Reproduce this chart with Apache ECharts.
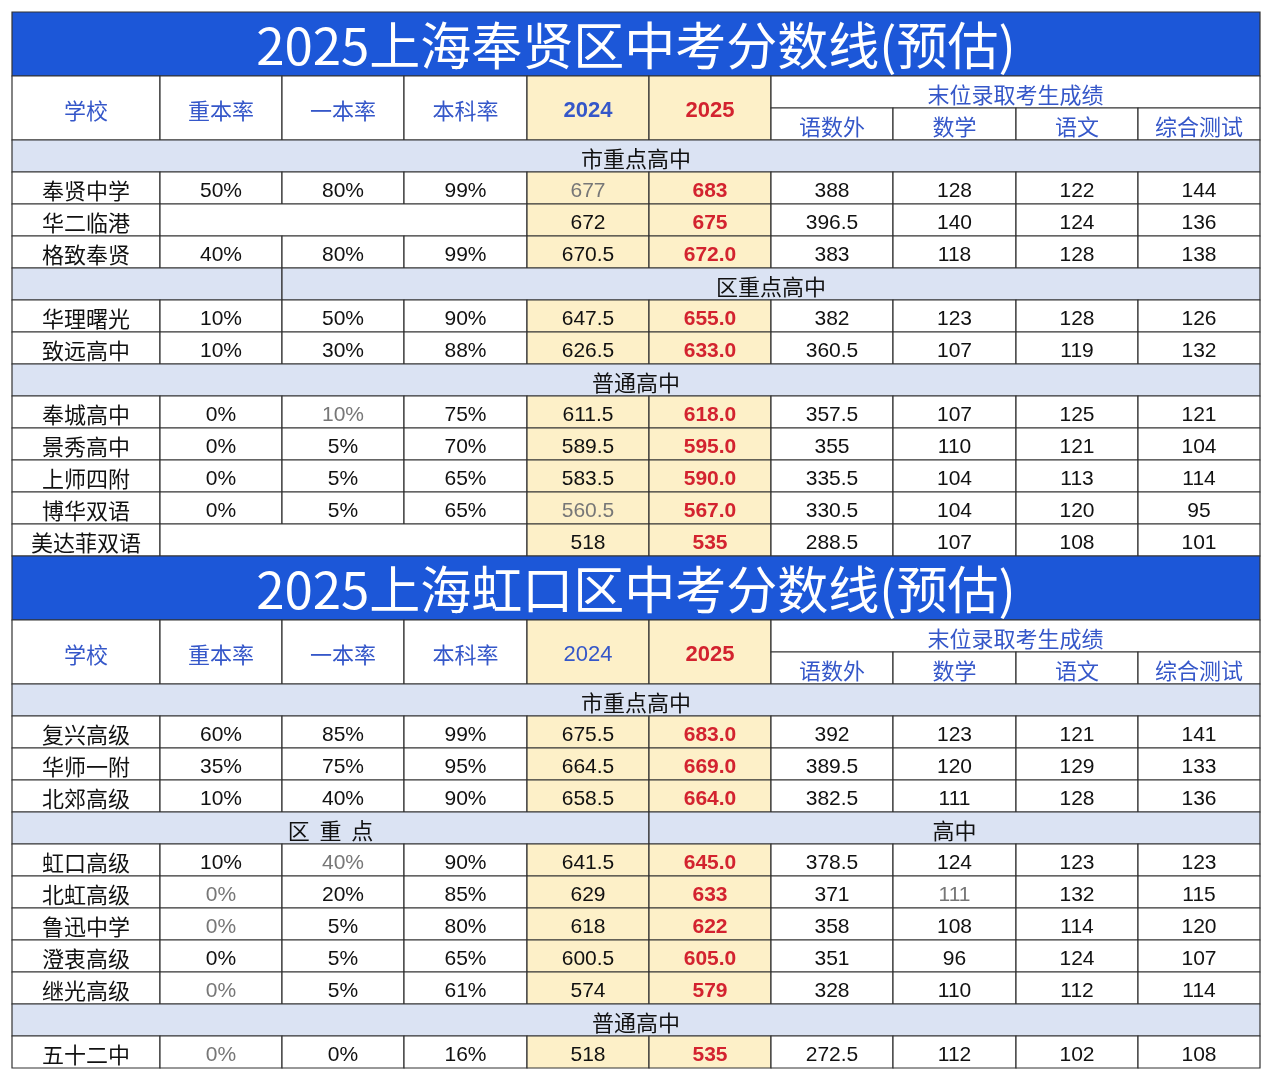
<!DOCTYPE html>
<html>
<head>
<meta charset="UTF-8">
<title>中考分数线</title>
<script src="https://cdn.jsdelivr.net/npm/echarts@6/dist/echarts.min.js"></script>
</head>
<body style="margin:0;background:#fff">
<div id="main" style="width:1272px;height:1080px"></div>
<script>
// 列宽（像素单位，轴按像素值排布）
var colWidths = [148, 122, 122, 123, 122, 122, 122, 123, 122, 122];
var headLabels = ['学校', '重本率', '一本率', '本科率', '2024', '2025'];
var subHead = '末位录取考生成绩';
var subLabels = ['语数外', '数学', '语文', '综合测试'];

// 奉贤区
var fxTitle = '2025上海奉贤区中考分数线(预估)';
var fxSchools = ['奉贤中学', '华二临港', '格致奉贤', '华理曙光', '致远高中', '奉城高中', '景秀高中', '上师四附', '博华双语', '美达菲双语'];
var fxRates = [['50%', '80%', '99%'], null, ['40%', '80%', '99%'], ['10%', '50%', '90%'], ['10%', '30%', '88%'],
  ['0%', '10%', '75%'], ['0%', '5%', '70%'], ['0%', '5%', '65%'], ['0%', '5%', '65%'], null];
var fx2024 = ['677', '672', '670.5', '647.5', '626.5', '611.5', '589.5', '583.5', '560.5', '518'];
var fx2025 = ['683', '675', '672.0', '655.0', '633.0', '618.0', '595.0', '590.0', '567.0', '535'];
var fxScores = [[388, 128, 122, 144], [396.5, 140, 124, 136], [383, 118, 128, 138], [382, 123, 128, 126], [360.5, 107, 119, 132],
  [357.5, 107, 125, 121], [355, 110, 121, 104], [335.5, 104, 113, 114], [330.5, 104, 120, 95], [288.5, 107, 108, 101]];
var fxSections = [
  { at: 0, spans: [[0, 10, '市重点高中']] },
  { at: 3, spans: [[0, 2, ''], [2, 10, '区重点高中']] },
  { at: 5, spans: [[0, 10, '普通高中']] }
];
var fxBold2024 = true;

// 虹口区
var hkTitle = '2025上海虹口区中考分数线(预估)';
var hkSchools = ['复兴高级', '华师一附', '北郊高级', '虹口高级', '北虹高级', '鲁迅中学', '澄衷高级', '继光高级', '五十二中'];
var hkRates = [['60%', '85%', '99%'], ['35%', '75%', '95%'], ['10%', '40%', '90%'], ['10%', '40%', '90%'], ['0%', '20%', '85%'],
  ['0%', '5%', '80%'], ['0%', '5%', '65%'], ['0%', '5%', '61%'], ['0%', '0%', '16%']];
var hk2024 = ['675.5', '664.5', '658.5', '641.5', '629', '618', '600.5', '574', '518'];
var hk2025 = ['683.0', '669.0', '664.0', '645.0', '633', '622', '605.0', '579', '535'];
var hkScores = [[392, 123, 121, 141], [389.5, 120, 129, 133], [382.5, 111, 128, 136], [378.5, 124, 123, 123], [371, 111, 132, 115],
  [358, 108, 114, 120], [351, 96, 124, 107], [328, 110, 112, 114], [272.5, 112, 102, 108]];
var hkSections = [
  { at: 0, spans: [[0, 10, '市重点高中']] },
  { at: 3, spans: [[0, 5, '区  重  点'], [5, 10, '高中']] },
  { at: 8, spans: [[0, 10, '普通高中']] }
];
var hkBold2024 = false;

// 灰色字的单元格：区-行-列
var grayCells = ['fx-0-4', 'fx-5-2', 'fx-8-4', 'hk-3-2', 'hk-4-1', 'hk-5-1', 'hk-7-1', 'hk-8-1', 'hk-4-7'];

var xEdge = [0];
colWidths.forEach(function (w) { xEdge.push(xEdge[xEdge.length - 1] + w); });

var BLUE = '#1c57d8', HEAD = '#3557c9', RED = '#d3232f', YEL = '#fdf0c8', SEC = '#dbe3f3';
var cells = [];
var row = 0;
function cell(c0, c1, r0, r1, text, st) {
  cells.push([xEdge[c0], r0, xEdge[c1], r1, String(text), st || {}]);
}
function block(key, title, schools, rates, s24, s25, scores, sections, bold24) {
  cell(0, 10, row, row + 2, title, { fill: BLUE, color: '#fff', size: 51, title: true });
  row += 2;
  for (var i = 0; i < 4; i++) cell(i, i + 1, row, row + 2, headLabels[i], { color: HEAD, size: 22 });
  cell(4, 5, row, row + 2, headLabels[4], { fill: YEL, color: HEAD, bold: bold24, num: true, size: 22 });
  cell(5, 6, row, row + 2, headLabels[5], { fill: YEL, color: RED, bold: true, num: true, size: 22 });
  cell(6, 10, row, row + 1, subHead, { color: HEAD, size: 22 });
  for (i = 0; i < 4; i++) cell(6 + i, 7 + i, row + 1, row + 2, subLabels[i], { color: HEAD, size: 22 });
  row += 2;
  var si = 0;
  for (var r = 0; r < schools.length; r++) {
    if (si < sections.length && sections[si].at === r) {
      sections[si].spans.forEach(function (s) { cell(s[0], s[1], row, row + 1, s[2], { fill: SEC, size: 22 }); });
      si++; row++;
    }
    var g = function (c) { return grayCells.indexOf(key + '-' + r + '-' + c) >= 0 ? { color: '#777', num: true } : { num: true }; };
    cell(0, 1, row, row + 1, schools[r], { size: 22 });
    if (rates[r]) {
      for (i = 0; i < 3; i++) cell(1 + i, 2 + i, row, row + 1, rates[r][i], g(1 + i));
    } else {
      cell(1, 4, row, row + 1, '', {});
    }
    var st4 = g(4); st4.fill = YEL;
    cell(4, 5, row, row + 1, s24[r], st4);
    cell(5, 6, row, row + 1, s25[r], { fill: YEL, color: RED, bold: true, num: true });
    for (i = 0; i < 4; i++) cell(6 + i, 7 + i, row, row + 1, scores[r][i], g(6 + i));
    row++;
  }
}
block('fx', fxTitle, fxSchools, fxRates, fx2024, fx2025, fxScores, fxSections, fxBold2024);
block('hk', hkTitle, hkSchools, hkRates, hk2024, hk2025, hkScores, hkSections, hkBold2024);

var myChart = echarts.init(document.getElementById('main'));
myChart.setOption({
  animation: false,
  grid: { left: 12, top: 12, width: 1248, height: 1056 },
  xAxis: { type: 'value', min: 0, max: xEdge[xEdge.length - 1], show: false },
  yAxis: { type: 'value', min: 0, max: row, inverse: true, show: false },
  series: [{
    type: 'custom',
    data: cells,
    renderItem: function (params, api) {
      var d = cells[params.dataIndex];
      var p0 = api.coord([d[0], d[1]]), p1 = api.coord([d[2], d[3]]);
      var st = d[5];
      return {
        type: 'rect',
        shape: { x: p0[0], y: p0[1], width: p1[0] - p0[0], height: p1[1] - p0[1] },
        style: { fill: st.fill || '#fff', stroke: '#333', lineWidth: 1.2 },
        textContent: {
          style: {
            text: d[4],
            fill: st.color || '#111',
            fontSize: st.size || 21,
            fontWeight: st.bold ? 'bold' : 'normal',
            fontFamily: st.num ? 'Liberation Sans, Noto Sans CJK SC' : 'Noto Sans CJK SC'
          }
        },
        textConfig: { position: 'inside', offset: [0, st.title ? 2 : 3] }
      };
    }
  }]
});
</script>
</body>
</html>
